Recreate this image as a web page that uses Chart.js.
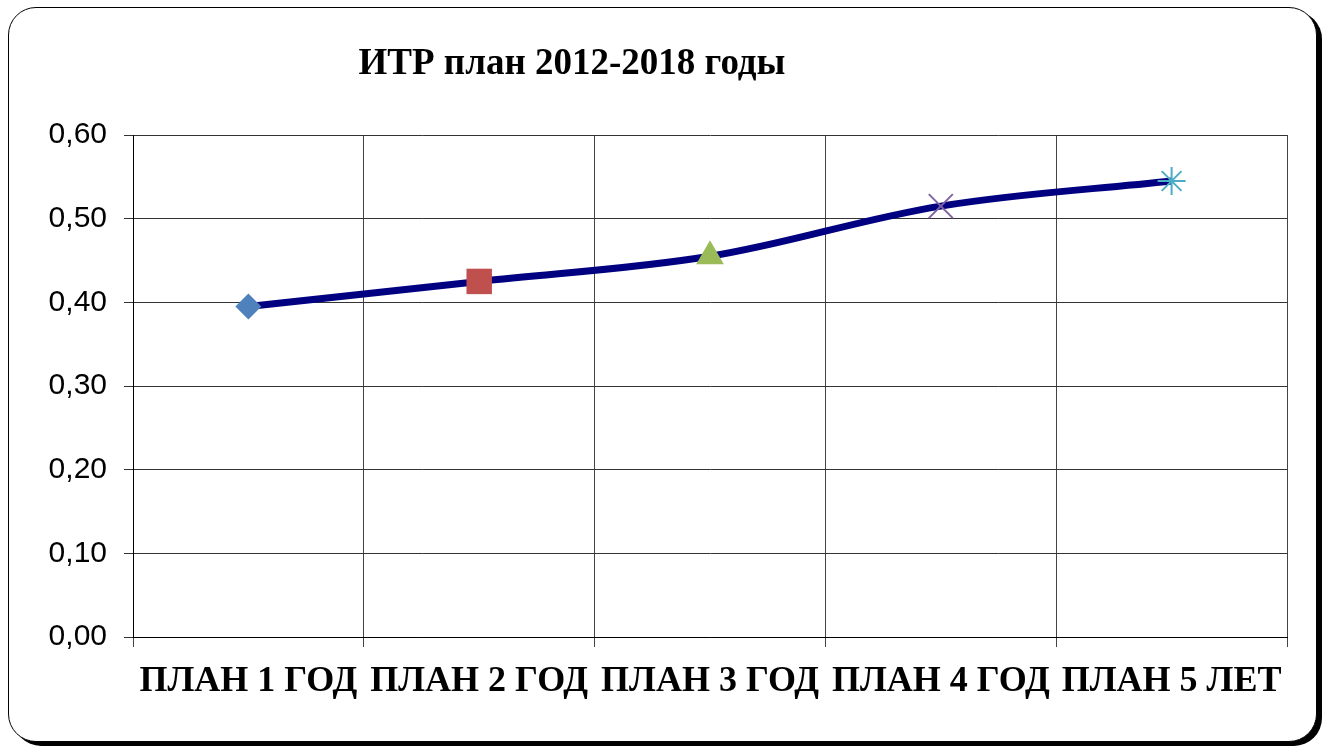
<!DOCTYPE html>
<html>
<head>
<meta charset="utf-8">
<script src="https://cdn.jsdelivr.net/npm/chart.js@4"></script>
<style>
  html, body { margin: 0; padding: 0; background: #fff; }
  .card {
    position: absolute; left: 8px; top: 7px; width: 1309px; height: 735px;
    box-sizing: border-box; border: 1.5px solid #000; border-radius: 28px;
    box-shadow: 5px 4px 0 #000; background: #fff;
  }
  .wrap { position: absolute; left: 0; top: 0; width: 1328px; height: 747px; }
</style>
</head>
<body>
<div class="card"></div>
<div class="wrap"><canvas id="myChart" width="1328" height="747"></canvas></div>
<script>
const titleText = 'ИТР план 2012-2018 годы';
const labels = ['ПЛАН 1 ГОД', 'ПЛАН 2 ГОД', 'ПЛАН 3 ГОД', 'ПЛАН 4 ГОД', 'ПЛАН 5 ЛЕТ'];
const values = [0.395, 0.425, 0.455, 0.515, 0.545];
const markerStyles = ['rectRot', 'rect', 'triangle', 'crossRot', 'star'];
const markerColors = ['#4F81BD', '#C0504D', '#9BBB59', '#8064A2', '#4BACC6'];
const markerSizes = [13, 18, 16, 17, 14];

// title sits left of centre like in the original
const titlePlugin = {
    id: 'offTitle',
    afterDraw(chart) {
        const c = chart.ctx;
        c.save();
        c.font = 'bold 37px "Liberation Serif"';
        c.fillStyle = '#000';
        c.textAlign = 'center';
        c.textBaseline = 'alphabetic';
        c.fillText(titleText, 572, 74);
        c.restore();
    }
};

var ctx = document.getElementById('myChart');
var myChart = new Chart(ctx, {
    type: 'line',
    data: {
        labels: labels,
        datasets: [{
            data: values,
            borderColor: '#000080',
            borderWidth: 7,
            tension: 0.35,
            pointStyle: markerStyles,
            pointRadius: markerSizes,
            pointBackgroundColor: markerColors,
            pointBorderColor: markerColors,
            pointBorderWidth: [0, 0, 0, 2, 2]
        }]
    },
    options: {
        responsive: false,
        animation: false,
        layout: {
            padding: { left: 45, right: 41, top: 135, bottom: 0 }
        },
        plugins: {
            legend: { display: false },
            tooltip: { enabled: false }
        },
        scales: {
            x: {
                offset: true,
                grid: {
                    offset: true,
                    color: '#444',
                    tickLength: 10,
                    drawTicks: true
                },
                border: { color: '#000' },
                ticks: {
                    color: '#000',
                    padding: 13,
                    maxRotation: 0,
                    autoSkip: false,
                    font: { family: '"Liberation Serif"', size: 36, weight: 'bold' }
                },
                afterFit(scale) { scale.height = 110; }
            },
            y: {
                min: 0,
                max: 0.6,
                ticks: {
                    stepSize: 0.1,
                    color: '#000',
                    padding: 17,
                    font: { family: '"Liberation Sans"', size: 30 },
                    callback: v => v.toFixed(2).replace('.', ',')
                },
                grid: { color: '#333', tickLength: 9 },
                border: { color: '#000' },
                afterFit(scale) { scale.width = 88; }
            }
        }
    },
    plugins: [titlePlugin]
});
</script>
</body>
</html>
